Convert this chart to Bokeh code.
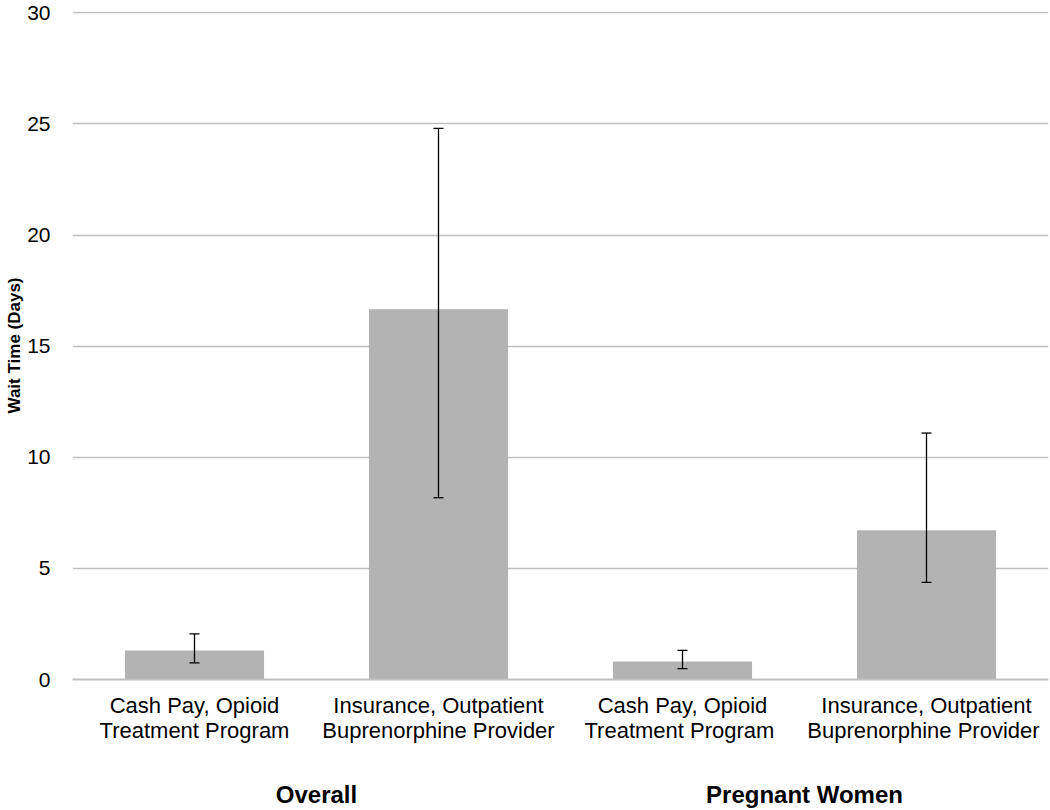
from bokeh.plotting import figure
from bokeh.models import ColumnDataSource, FactorRange, Whisker, TeeHead, CategoricalAxis, SingleIntervalTicker
from bokeh.embed import file_html
from bokeh.resources import INLINE

categories = ["Cash Pay, Opioid\nTreatment Program", "Insurance, Outpatient\nBuprenorphine Provider",
              "Cash Pay, Opioid\nTreatment Program ", "Insurance, Outpatient\nBuprenorphine Provider "]
groups = ["Overall", "Pregnant Women"]
wait_days = [1.31, 16.66, 0.81, 6.72]
ci_lower = [0.75, 8.18, 0.49, 4.37]
ci_upper = [2.05, 24.8, 1.31, 11.09]

FONT = "Liberation Sans"

src = ColumnDataSource(dict(x=categories, y=wait_days, lower=ci_lower, upper=ci_upper))

p = figure(x_range=FactorRange(factors=categories, range_padding=0), y_range=(0, 30.06),
           width=1050, height=810, output_backend="svg", toolbar_location=None,
           min_border_left=72, min_border_right=2, min_border_top=11, min_border_bottom=0)
p.extra_x_ranges = {"groups": FactorRange(factors=groups, range_padding=0)}

p.vbar(x="x", top="y", width=0.57, source=src, fill_color="#b3b3b3", line_color=None)
w = Whisker(base="x", upper="upper", lower="lower", source=src, dimension="height",
            line_color="black", line_width=1.3, level="overlay",
            upper_head=TeeHead(size=10, line_color="black", line_width=1.3),
            lower_head=TeeHead(size=10, line_color="black", line_width=1.3))
p.add_layout(w)

p.outline_line_color = None
p.xgrid.grid_line_color = None
p.ygrid.grid_line_color = "#bfbfbf"
p.ygrid.grid_line_width = 1.5
p.yaxis.ticker = SingleIntervalTicker(interval=5)
p.yaxis.axis_line_color = None
p.yaxis.major_tick_line_color = None
p.yaxis.minor_tick_line_color = None
p.yaxis.major_label_text_font = FONT
p.yaxis.major_label_text_font_size = "21px"
p.yaxis.major_label_text_color = "black"
p.yaxis.major_label_standoff = 16
p.yaxis.axis_label = "Wait Time (Days)"
p.yaxis.axis_label_text_font = FONT
p.yaxis.axis_label_text_font_size = "17px"
p.yaxis.axis_label_text_font_style = "bold"
p.yaxis.axis_label_text_color = "black"
p.yaxis.axis_label_standoff = 0

p.xaxis.axis_line_color = "#bfbfbf"
p.xaxis.axis_line_width = 2
p.xaxis.major_tick_line_color = None
p.xaxis.major_label_text_font = FONT
p.xaxis.major_label_text_font_size = "22px"
p.xaxis.major_label_text_line_height = 1.0
p.xaxis.major_label_text_color = "black"
p.xaxis.major_label_standoff = 7
p.xaxis.major_label_orientation = "horizontal"

gax = CategoricalAxis(x_range_name="groups")
gax.axis_line_color = None
gax.major_tick_line_color = None
gax.major_label_text_font = FONT
gax.major_label_text_font_size = "24px"
gax.major_label_text_font_style = "bold"
gax.major_label_text_color = "black"
gax.major_label_standoff = 29
p.add_layout(gax, "below")

open("out.html", "w").write(file_html(p, INLINE))
